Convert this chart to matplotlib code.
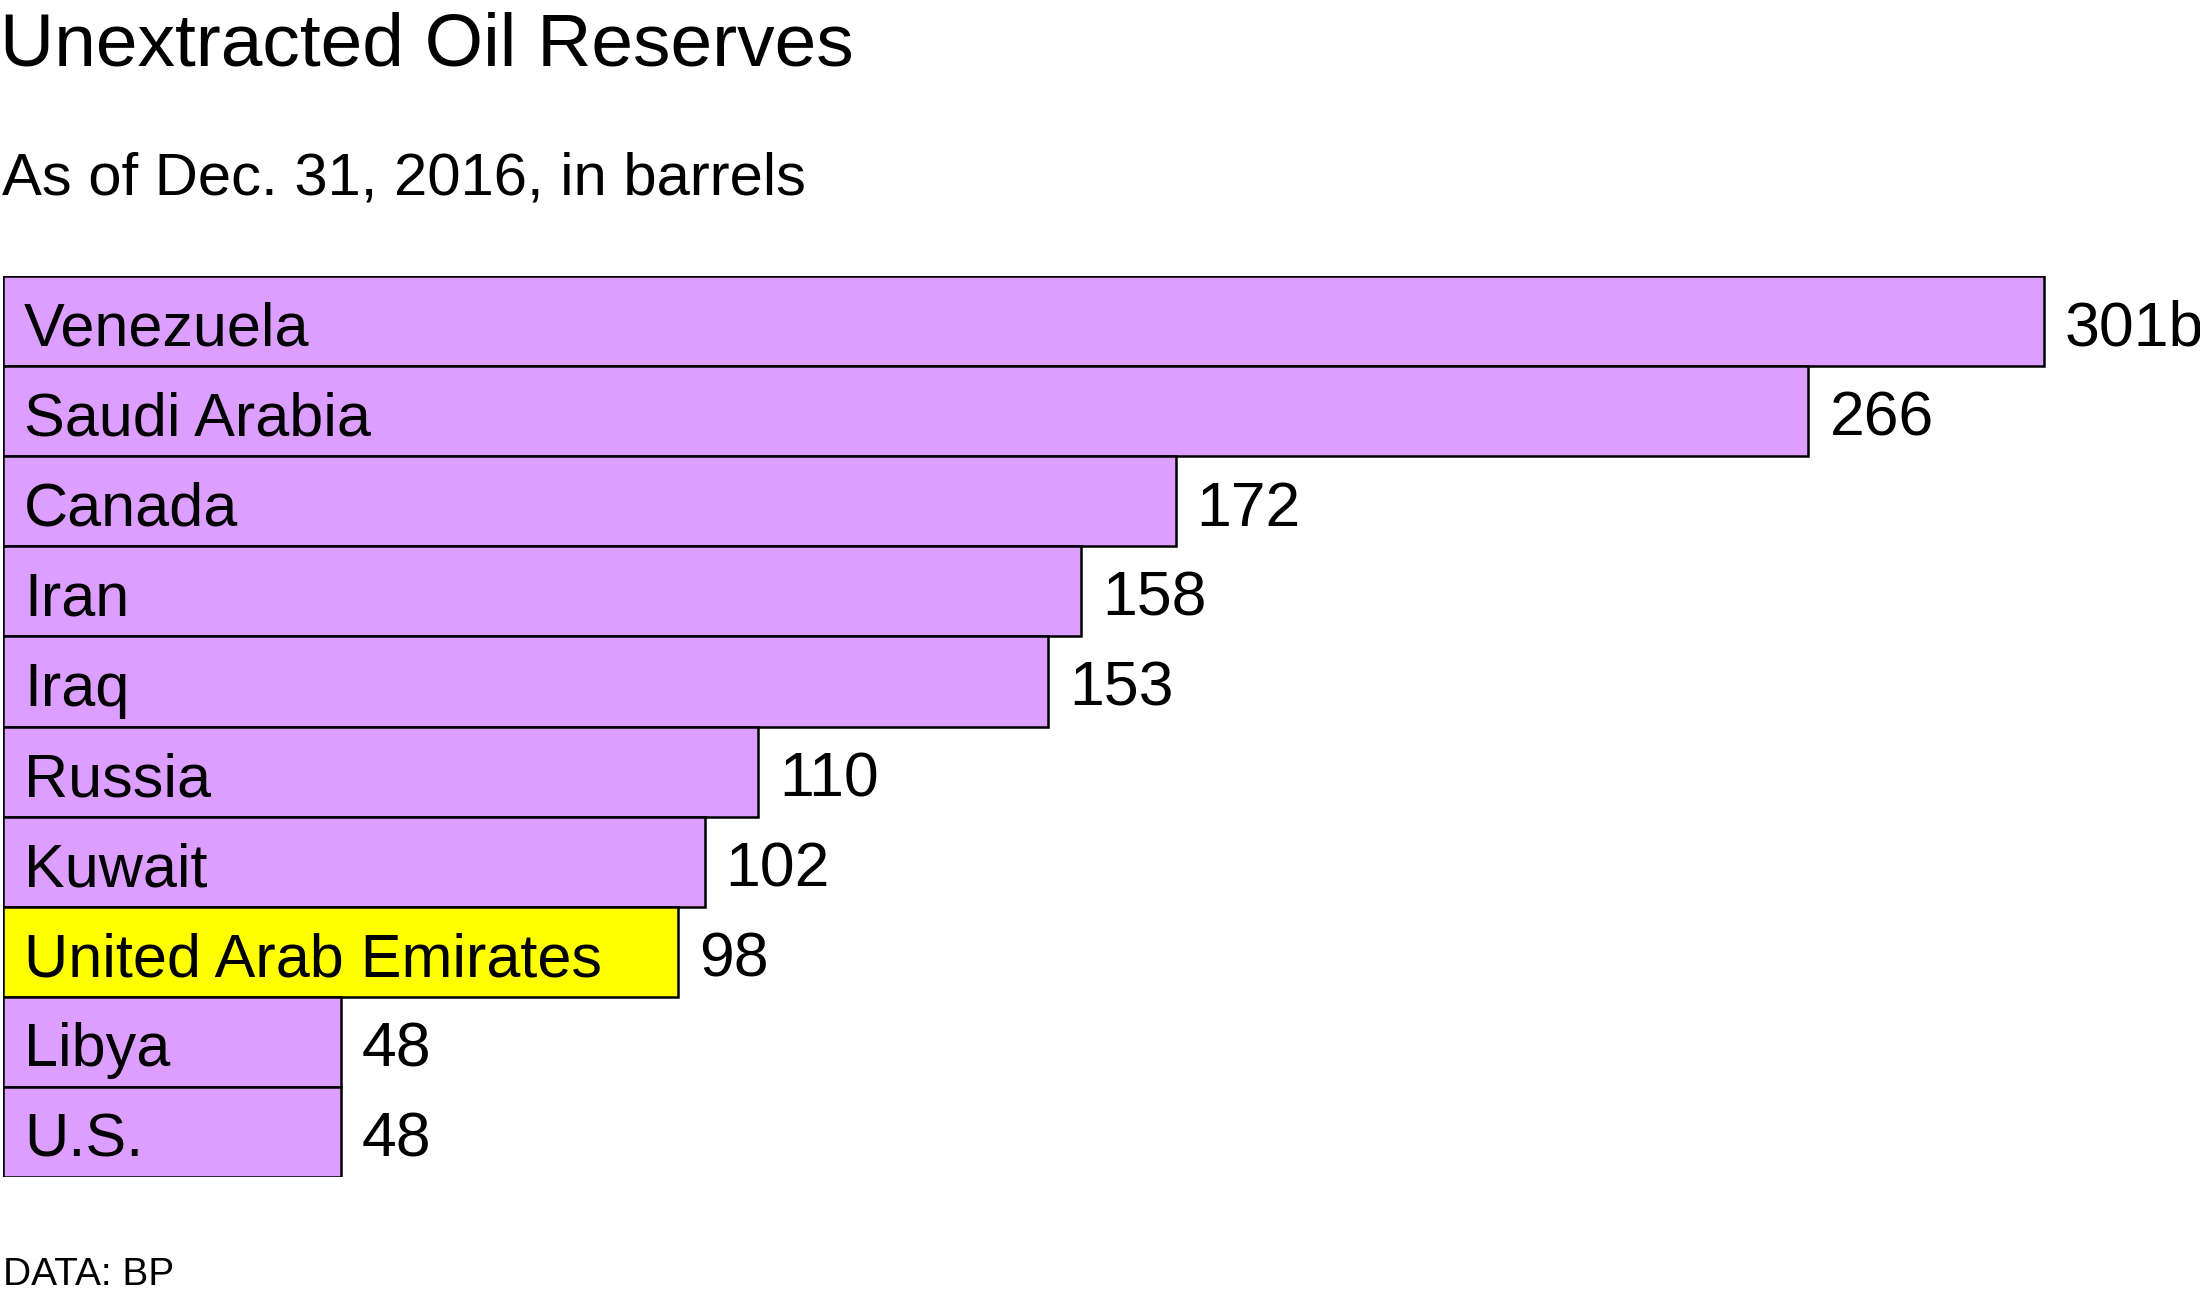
import matplotlib
matplotlib.use("Agg")
import matplotlib.pyplot as plt

countries = ["Venezuela", "Saudi Arabia", "Canada", "Iran", "Iraq", "Russia",
             "Kuwait", "United Arab Emirates", "Libya", "U.S."]
reserves = [301, 266, 172, 158, 153, 110, 102, 98, 48, 48]
value_labels = ["301b", "266", "172", "158", "153", "110", "102", "98", "48", "48"]
highlight = "United Arab Emirates"

title = "Unextracted Oil Reserves"
subtitle = "As of Dec. 31, 2016, in barrels"
source = "DATA: BP"

PURPLE = "#DC9EFF"
YELLOW = "#FFFF00"

plt.rcParams["font.family"] = ["Liberation Sans", "DejaVu Sans"]

W, H = 2200, 1300
DPI = 100
fig = plt.figure(figsize=(W / DPI, H / DPI), dpi=DPI)
fig.patch.set_facecolor("white")

left_px, top_px, bottom_px = 3, 276, 1177
zero_px = 18
scale = (2044 - zero_px) / 301.0  # px per unit
x_min = -(zero_px - left_px) / scale
ax = fig.add_axes([left_px / W, 1 - bottom_px / H, (W - left_px) / W, (bottom_px - top_px) / H])
ax.set_xlim(x_min, x_min + (W - left_px) / scale)
ax.set_ylim(len(countries) - 0.5, -0.5)
ax.axis("off")

ys = list(range(len(countries)))
colors = [YELLOW if c == highlight else PURPLE for c in countries]
# bars run from the chart's left edge to their value
ax.barh(ys, [v - x_min for v in reserves], left=x_min, height=1.0,
        color=colors, edgecolor="black", linewidth=1.8)

pt = 72.0 / DPI
for y, c, v, lab in zip(ys, countries, reserves, value_labels):
    ax.annotate(c, (x_min, y), xytext=(21 * pt, -24.5 * pt), textcoords="offset points",
                ha="left", va="baseline", fontsize=44, color="black")
    ax.annotate(lab, (v, y), xytext=(21 * pt, -24.5 * pt), textcoords="offset points",
                ha="left", va="baseline", fontsize=45, color="black")

fig.text(0 / W, 1 - 66 / H, title, fontsize=54, ha="left", va="baseline", color="black")
fig.text(2 / W, 1 - 195 / H, subtitle, fontsize=43, ha="left", va="baseline", color="black")
fig.text(3 / W, 1 - 1285 / H, source, fontsize=28, ha="left", va="baseline", color="black")

fig.savefig("out.png", dpi=DPI, facecolor="white")
